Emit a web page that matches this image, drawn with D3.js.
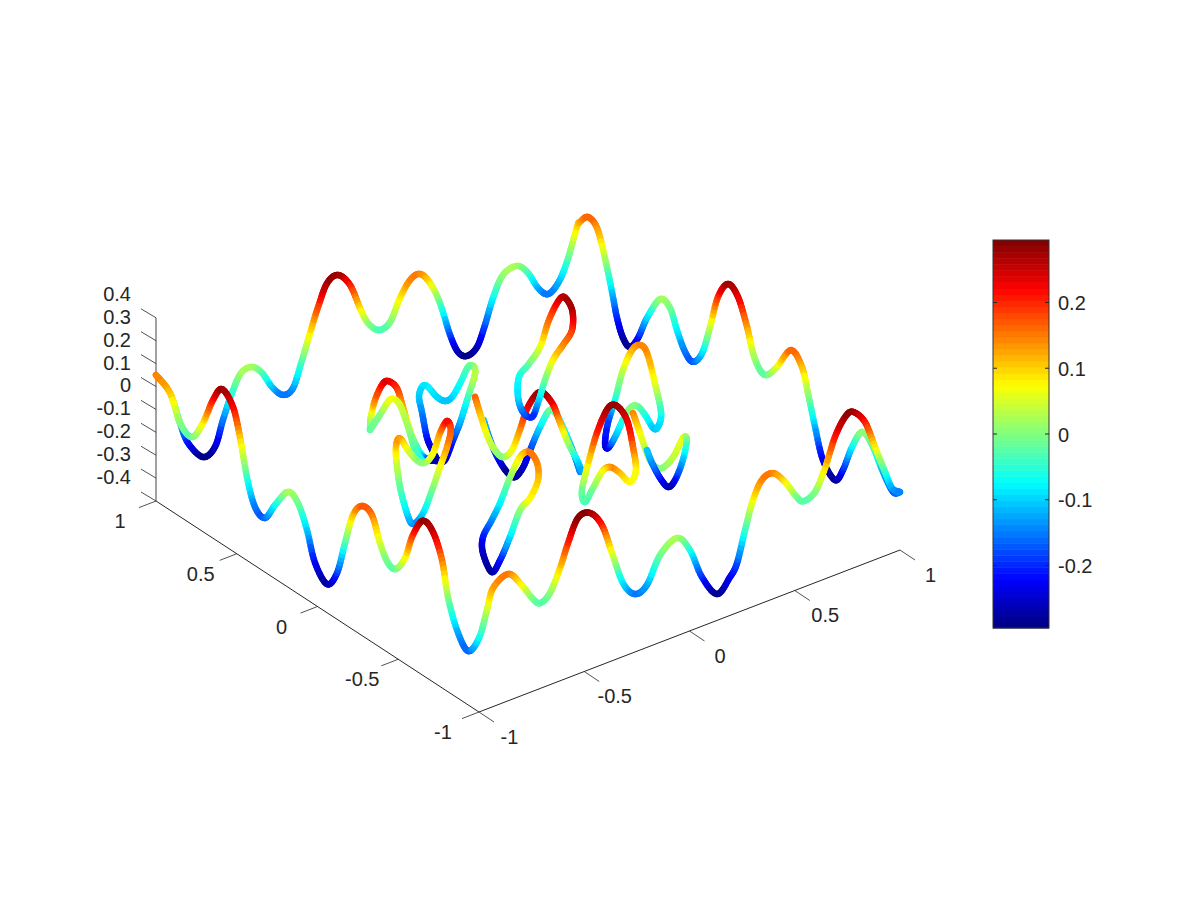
<!DOCTYPE html>
<html><head><meta charset="utf-8">
<script src="https://cdnjs.cloudflare.com/ajax/libs/d3/7.8.5/d3.min.js"></script>
<style>html,body{margin:0;background:#fff}svg{display:block}text{font-family:"Liberation Sans",Arial,sans-serif;font-size:20px;fill:#262626}</style>
</head><body><svg id="c" width="1200" height="900"></svg>
<script>
// outer boundary
const backLeftX=[-1,-.933,-.886,-.848,-.777,-.72,-.682,-.639,-.596,-.544,-.496,-.449,-.397,-.349,-.306,-.268,-.23,-.187,-.135,-.078,-.031,.007,.059,.112,.159,.207,.254,.302,.349,.397,.435,.477,.525,.563,.601,.648,.715,.767,.815,.862,.91,.952,1];
const backLeftZ=[.15,.048,-.1,-.2,-.287,-.263,-.159,-.056,.016,.024,-.019,-.097,-.15,-.137,-.03,.075,.175,.264,.281,.217,.1,.021,-.028,-.012,.076,.138,.148,.091,-.013,-.169,-.257,-.289,-.267,-.184,-.08,.004,.02,-.029,-.112,-.155,-.124,-.047,.089];
const backRightY=[.981,.932,.876,.827,.783,.752,.715,.672,.622,.567,.486,.424,.381,.331,.282,.226,.176,.127,.065,.003,-.053,-.09,-.133,-.176,-.238,-.325,-.393,-.43,-.474,-.523,-.597,-.647,-.703,-.765,-.827,-.895,-.957,-1];
const backRightZ=[.12,.164,.142,.034,-.095,-.194,-.264,-.284,-.221,-.109,.011,.001,-.076,-.148,-.169,-.106,.032,.186,.271,.243,.138,.041,-.014,-.015,.048,.162,.12,.023,-.105,-.227,-.28,-.213,-.087,.007,-.021,-.108,-.166,-.147];
const frontLeftY=[1,.913,.851,.777,.709,.647,.591,.523,.48,.437,.387,.325,.263,.183,.121,.065,.015,-.059,-.121,-.17,-.22,-.276,-.337,-.387,-.437,-.486,-.542,-.591,-.653,-.715,-.771,-.808,-.864,-.932,-1];
const frontLeftZ=[.15,.112,.009,-.018,.075,.204,.277,.23,.119,-.036,-.144,-.163,-.078,.016,-.004,-.096,-.217,-.275,-.198,-.045,.101,.166,.155,.055,-.009,-.012,.062,.185,.275,.255,.158,.013,-.105,-.165,-.077];
const frontRightX=[-.962,-.933,-.862,-.805,-.748,-.71,-.663,-.615,-.577,-.53,-.473,-.416,-.368,-.316,-.259,-.202,-.14,-.059,.002,.059,.131,.192,.226,.264,.302,.344,.397,.454,.501,.539,.596,.644,.691,.739,.777,.834,.881,.929,.962,1];
const frontRightZ=[.032,.118,.154,.094,.009,-.027,0,.093,.188,.281,.283,.21,.071,-.079,-.147,-.127,-.019,.027,-.047,-.185,-.285,-.233,-.183,-.052,.066,.138,.149,.09,.017,-.024,-.004,.084,.203,.273,.282,.217,.092,-.034,-.116,-.147];
// inner curves
const s1X=[-.433,-.424,-.449,-.433,-.428,-.392,-.387,-.388,-.369,-.33,-.203,-.11,-.095,-.042,-.017,.036,.063,.103,.126,.138,.093,.036,.018,.002,.001,-.008,-.052,-.074,-.107,-.098,-.11];
const s1Y=[.414,.42,.362,.34,.309,.301,.27,.226,.219,.226,.343,.414,.39,.409,.399,.424,.416,.462,.504,.551,.541,.517,.537,.566,.627,.646,.607,.559,.487,.466,.414];
const s1Z=[-.02,.03,.14,.21,.24,.2,.13,.05,-.01,-.08,-.2,-.27,-.26,-.2,-.13,-.06,.03,.03,.02,-.01,-.06,-.09,-.11,-.1,-.08,-.09,-.1,-.14,-.2,-.25,-.27];
const s2X=[-.433,-.356,-.326,-.317,-.303,-.348,-.38,-.374];
const s2Y=[.414,.453,.443,.423,.398,.289,.204,.169];
const s2Z=[-.02,0,.05,.07,.05,.02,-.03,-.06];
const s3X=[-.414,-.401,-.449,-.488,-.544,-.592,-.609,-.619,-.594,-.563,-.555,-.54,-.493,-.45,-.446,-.395,-.414];
const s3Y=[-.038,-.045,-.084,-.091,-.115,-.122,-.082,-.057,.018,.083,.089,.083,.088,.069,.012,.03,-.038];
const s3Z=[.22,.18,.14,.07,0,-.08,-.14,-.1,-.03,.06,.12,.13,.05,0,.06,.13,.22];
const s4X=[-.167,-.174,-.197,-.204,-.181,-.184,-.143,-.108,-.066,-.038,.01,.047,.101,.123];
const s4Y=[.11,.071,-.008,-.061,-.081,-.141,-.136,-.14,-.16,-.199,-.186,-.187,-.172,-.174];
const s4Z=[.17,.12,.06,.03,0,.06,.13,.22,.28,.24,.13,.03,-.07,-.13];
const s5X=[.036,.016,.009,.056,.057,.106,.142,.172,.196,.188,.187,.182,.128];
const s5Y=[.321,.256,.198,.203,.155,.168,.172,.15,.12,.059,.001,-.054,-.155];
const s5Z=[-.1,-.15,-.2,-.28,-.28,-.26,-.2,-.1,-.02,-.02,-.08,-.14,-.14];
const s6X=[.299,.263,.244,.307,.347,.381,.415,.455,.462,.416,.398,.354,.319,.298,.276,.299];
const s6Y=[.365,.374,.38,.456,.452,.422,.416,.413,.379,.269,.246,.245,.261,.283,.298,.365];
const s6Z=[-.2,-.17,-.1,-.07,-.03,.05,.15,.22,.26,.27,.2,.15,.09,0,-.1,-.2];
const s7X=[-.237,-.234,-.272,-.327,-.366,-.397,-.418,-.447,-.43,-.421,-.372,-.361,-.286,-.253,-.237];
const s7Y=[-.315,-.256,-.244,-.253,-.253,-.239,-.266,-.358,-.388,-.437,-.436,-.483,-.435,-.386,-.315];
const s7Z=[.15,.1,.02,-.07,-.13,-.2,-.25,-.28,-.22,-.1,0,.07,.1,.14,.15];
const s8X=[-.085,-.025,.017,.075,.1,.108,.076,.074,.012,-.009,-.053,-.037,-.066,-.11,-.085];
const s8Y=[-.445,-.416,-.411,-.398,-.42,-.472,-.551,-.572,-.616,-.581,-.577,-.506,-.482,-.496,-.445];
const s8Z=[-.01,.1,.2,.27,.28,.24,.17,.08,.07,.1,.14,.08,0,-.03,-.01];
const s9X=[.525,.567,.56,.59,.595,.559,.524,.468,.477,.419,.426,.382,.41,.424,.454,.489,.506,.525];
const s9Y=[-.12,-.085,-.056,.032,.082,.084,.095,.071,.127,.069,.06,-.041,-.053,-.08,-.084,-.088,-.115,-.12];
const s9Z=[-.1,-.07,.05,.13,.14,.13,.05,-.05,-.18,-.22,-.24,-.13,-.06,0,0,-.05,-.1,-.1];
const s10X=[.252,.255,.237,.253,.245,.297,.382,.447,.448,.439,.459,.424,.395,.387];
const s10Y=[-.322,-.361,-.428,-.445,-.511,-.512,-.462,-.401,-.375,-.339,-.269,-.265,-.253,-.232];
const s10Z=[.15,.08,.03,-.02,0,.03,.06,0,-.1,-.2,-.27,-.22,-.15,-.1];
// axes
const xTicks=[-1,-.5,0,.5,1], yTicks=[-1,-.5,0,.5,1];
const zTicks=[-.4,-.3,-.2,-.1,0,.1,.2,.3,.4];
const cbTicks=[-.2,-.1,0,.1,.2];
const cLim=[-.295,.295];

const fill=(n,v)=>Array.from({length:n},()=>v);
const back={x:backLeftX.concat(fill(backRightY.length,1)),y:fill(backLeftX.length,1).concat(backRightY),z:backLeftZ.concat(backRightZ)};
const front={x:fill(frontLeftY.length,-1).concat(frontRightX),y:frontLeftY.concat(fill(frontRightX.length,-1)),z:frontLeftZ.concat(frontRightZ)};
const series=[back,{x:s1X,y:s1Y,z:s1Z},{x:s2X,y:s2Y,z:s2Z},{x:s5X,y:s5Y,z:s5Z},{x:s4X,y:s4Y,z:s4Z},{x:s3X,y:s3Y,z:s3Z},{x:s6X,y:s6Y,z:s6Z},{x:s7X,y:s7Y,z:s7Z},{x:s9X,y:s9Y,z:s9Z},{x:s8X,y:s8Y,z:s8Z},{x:s10X,y:s10Y,z:s10Z},front];

// oblique projection built from linear scales
const X1=d3.scaleLinear([-1,1],[-210.5,210.5]), X2=d3.scaleLinear([-1,1],[81,-81]);
const Y1=d3.scaleLinear([-1,1],[161.5,-161.5]), Y2=d3.scaleLinear([-1,1],[105.5,-105.5]);
const Z2=d3.scaleLinear([-.4,.4],[91.6,-91.6]);
const px=(x,y)=>528+X1(x)+Y1(y), py=(x,y,z)=>433.9+X2(x)+Y2(y)+Z2(z);

// jet, 64 levels
function jet(t){const c=v=>Math.round(255*Math.max(0,Math.min(1,v)));
  return d3.rgb(c(1.5-Math.abs(4*t-3)),c(1.5-Math.abs(4*t-2)),c(1.5-Math.abs(4*t-1))).formatHex();}
const levels=d3.range(64).map(i=>jet((i+.5)/64));
const color=d3.scaleQuantize().domain(cLim).range(levels);

const svg=d3.select("#c");
const ax=svg.append("g").attr("fill","none");
const seg=(a,b,c,d,w,col)=>ax.append("line").attr("x1",a).attr("y1",b).attr("x2",c).attr("y2",d).attr("stroke-width",w||.8).attr("stroke",col||"#262626");
seg(px(-1,-1),py(-1,-1,-.4),px(1,-1),py(1,-1,-.4),1);
seg(px(-1,-1),py(-1,-1,-.4),px(-1,1),py(-1,1,-.4),1);
seg(px(-1,1),py(-1,1,-.4),px(-1,1),py(-1,1,.4),1.6,"#8a8a8a");
const lab=svg.append("g");
xTicks.forEach(t=>{const a=px(t,-1),b=py(t,-1,-.4);seg(a,b,a+15,b+10);
  lab.append("text").attr("x",a+30.5).attr("y",b+31.5).attr("text-anchor","middle").text(t);});
yTicks.forEach(t=>{const a=px(-1,t),b=py(-1,t,-.4);seg(a,b,a-17,b+6.6);
  lab.append("text").attr("x",a-36).attr("y",b+27).attr("text-anchor","middle").text(t);});
zTicks.forEach(t=>{const a=px(-1,1),b=py(-1,1,t);seg(a,b,a-15,b-9);
  lab.append("text").attr("x",131).attr("y",b-17).attr("text-anchor","end").text(t);});

// Catmull-Rom evaluated in data space, coloured by z
const cr=(a,b,c,d,t)=>.5*(2*b+(c-a)*t+(2*a-5*b+4*c-d)*t*t+(3*b-a-3*c+d)*t*t*t);
const marks=svg.append("g").attr("fill","none").attr("stroke-width",6.4).attr("stroke-linecap","round");
series.forEach(s=>{
  const n=s.x.length, closed=s.x[0]===s.x[n-1]&&s.y[0]===s.y[n-1];
  const at=(arr,i)=>closed?arr[(i+n-1)%(n-1)]:arr[Math.max(0,Math.min(n-1,i))];
  const pts=[];
  for(let i=0;i<n-1;i++)for(let k=0;k<8;k++){const t=k/8;
    const f=arr=>cr(at(arr,i-1),at(arr,i),at(arr,i+1),at(arr,i+2),t);
    pts.push([f(s.x),f(s.y),f(s.z)]);}
  pts.push([s.x[n-1],s.y[n-1],s.z[n-1]]);
  const g=marks.append("g");
  for(let i=0;i<pts.length-1;i++){const p=pts[i],q=pts[i+1];
    g.append("line").attr("x1",px(p[0],p[1])).attr("y1",py(p[0],p[1],p[2])).attr("x2",px(q[0],q[1])).attr("y2",py(q[0],q[1],q[2])).attr("stroke",color((p[2]+q[2])/2));}
});

// colorbar
const cb=d3.scaleLinear().domain(cLim).range([628,240]);
const cbg=svg.append("g");
levels.forEach((c,i)=>{const [a,b]=color.invertExtent(c);
  cbg.append("rect").attr("x",993).attr("width",56).attr("y",cb(b)).attr("height",cb(a)-cb(b)+.5).attr("fill",c);});
cbg.append("rect").attr("x",993).attr("y",240).attr("width",56).attr("height",388).attr("fill","none").attr("stroke","#333").attr("stroke-width",1);
const cax=d3.axisRight(cb).tickValues(cbTicks).tickSize(0).tickPadding(9).tickFormat(d=>d);
const cg=svg.append("g").attr("transform","translate(1049,0)").call(cax);
cg.select(".domain").remove();
cg.selectAll("text").attr("dy",null).attr("y",7).style("font-size","20px").style("font-family",'"Liberation Sans",Arial,sans-serif').attr("fill","#262626");
cbTicks.forEach(t=>{svg.append("line").attr("x1",993).attr("x2",997).attr("y1",cb(t)).attr("y2",cb(t)).attr("stroke","#262626");
  svg.append("line").attr("x1",1045).attr("x2",1049).attr("y1",cb(t)).attr("y2",cb(t)).attr("stroke","#262626");});
</script></body></html>
